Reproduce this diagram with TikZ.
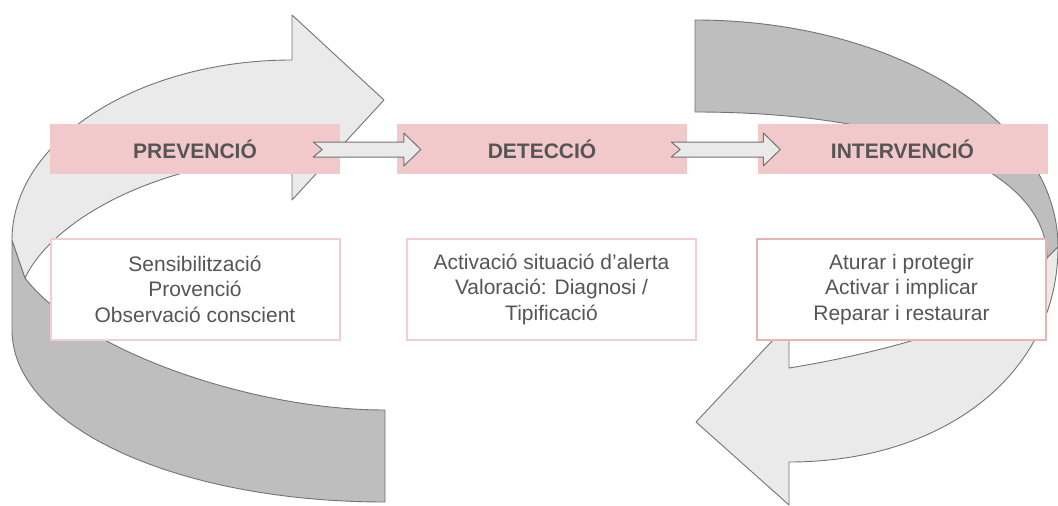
\documentclass[tikz,border=0pt]{standalone}
\usepackage{fontspec}
\setmainfont{Liberation Sans}
\usepackage{xcolor}
\usepackage{tikz}
\usetikzlibrary{positioning,calc}
\definecolor{rosaFons}{RGB}{242,201,202}
\definecolor{rosaVora}{RGB}{243,206,206}
\definecolor{rosaFosc}{RGB}{229,180,180}
\definecolor{grisClar}{RGB}{234,234,234}
\definecolor{grisFosc}{RGB}{190,190,190}
\definecolor{grisLinia}{RGB}{115,115,115}
\definecolor{textGris}{RGB}{85,85,85}
\tikzset{
    fase/.style={
        fill=rosaFons,
        minimum width=290pt,
        minimum height=50pt,
        inner sep=0pt,
        text=textGris,
        font=\fontsize{21}{25.5}\selectfont\bfseries
    },
    accions/.style={
        draw=rosaVora,
        line width=2pt,
        fill=white,
        minimum width=289pt,
        minimum height=101pt,
        inner sep=0pt,
        align=center,
        text=textGris,
        font=\fontsize{21}{25.5}\selectfont
    },
    bandaClara/.style={fill=grisClar, draw=grisLinia, line width=0.9pt, line join=round},
    bandaFosca/.style={fill=grisFosc, draw=grisLinia, line width=0.9pt, line join=round},
    fletxa/.style={fill=grisClar, draw=grisLinia, line width=1pt, line join=round}
}
% fletxa petita amb cua escapçada: #1 cua, #2 punta
\newcommand{\fletxapas}[2]{%
    \filldraw[fletxa] ($(#1)+(0,-7.5)$) -- ($(#2)+(-17,-7.5)$) -- ($(#2)+(-17,-16.5)$) -- (#2)
        -- ($(#2)+(-17,16.5)$) -- ($(#2)+(-17,7.5)$) -- ($(#1)+(0,7.5)$) -- ($(#1)+(9,0)$) -- cycle;}

\begin{document}
\begin{tikzpicture}[x=1pt, y=-1pt]
    \useasboundingbox (0,0) rectangle (1058,506);

    % 1. Fletxes corbes del fons
    \filldraw[bandaFosca] (12,240) -- (12,330) .. controls (12,426) and (176,502) .. (385,502)
        -- (385,410) .. controls (250,410) and (80,350) .. (25,278) -- cycle;
    \filldraw[bandaClara] (292,60) .. controls (138,60) and (12,141) .. (12,240) -- (25,278)
        .. controls (55,215) and (170,158) .. (292,158) -- (292,200) -- (384,100) -- (292,15) -- cycle;

    \filldraw[bandaFosca] (695,20) .. controls (895,20) and (1058,121) .. (1058,247) -- (1047,258)
        .. controls (1047,170) and (906,112) .. (695,112) -- cycle;
    \filldraw[bandaClara] (1058,247) .. controls (1058,373) and (945,462) .. (789,462) -- (789,505)
        -- (696,422) -- (789,323) -- (789,368) .. controls (900,350) and (1040,310) .. (1047,258) -- cycle;

    % 2. Fases
    \node[fase] (prev) at (195,149) {PREVENCIÓ};
    \node[fase] (det) at (542,149) {DETECCIÓ};
    \node[fase] (interv) at (902.5,149) {INTERVENCIÓ};

    % 3. Fletxes entre fases
    \coordinate (cua1) at ($(prev.east)+(-27,0.5)$);
    \coordinate (punta1) at ($(det.west)+(24,0.5)$);
    \coordinate (cua2) at ($(det.east)+(-16,0.5)$);
    \coordinate (punta2) at ($(interv.west)+(23,0.5)$);
    \fletxapas{cua1}{punta1}
    \fletxapas{cua2}{punta2}

    % 4. Accions de cada fase
    \node[accions] (prevtxt) at (195,289) {Sensibilització\\Provenció\\Observació conscient};
    \node[accions] (dettxt) at (551.5,289) {Activació situació d’alerta\\Valoració: Diagnosi /\\Tipificació};
    \node[accions, draw=rosaFosc] (intervtxt) at (901.5,289.5) {Aturar i protegir\\Activar i implicar\\Reparar i restaurar};
\end{tikzpicture}
\end{document}
